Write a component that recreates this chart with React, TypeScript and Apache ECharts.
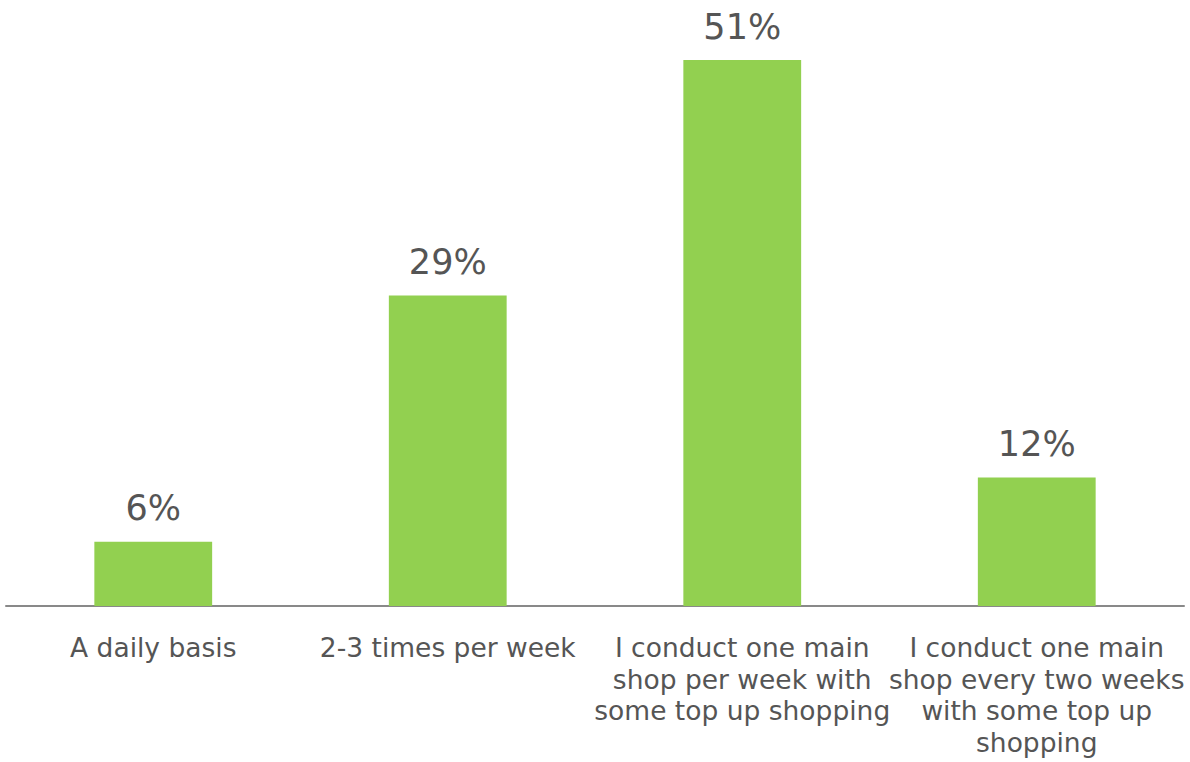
import React, { useEffect, useRef } from "react";
import * as echarts from "echarts";

const categories = [
  "A daily basis",
  "2-3 times per week",
  "I conduct one main shop per week with some top up shopping",
  "I conduct one main shop every two weeks with some top up shopping",
];
const categoryLines = [
  "A daily basis",
  "2-3 times per week",
  "I conduct one main\nshop per week with\nsome top up shopping",
  "I conduct one main\nshop every two weeks\nwith some top up\nshopping",
];
const values = [6, 29, 51, 12];

const FONT = "'DejaVu Sans', Verdana, sans-serif";

export default function App() {
  const ref = useRef<HTMLDivElement>(null);
  useEffect(() => {
    if (!ref.current) return;
    const chart = echarts.init(ref.current, null, { renderer: "svg" });
    chart.setOption({
      animation: false,
      backgroundColor: "#ffffff",
      grid: { left: 6, right: 6, top: 60, bottom: 156, containLabel: false },
      xAxis: {
        type: "category",
        data: categories,
        axisLine: { show: true, lineStyle: { color: "#898989", width: 2 } },
        axisTick: { show: false },
        axisLabel: {
          interval: 0,
          margin: 26,
          color: "#555555",
          fontFamily: FONT,
          fontSize: 26.5,
          lineHeight: 31.5,
          formatter: (v: string) => categoryLines[categories.indexOf(v)] ?? v,
        },
      },
      yAxis: {
        type: "value",
        min: 0,
        max: 51,
        show: false,
        splitLine: { show: false },
      },
      series: [
        {
          type: "bar",
          data: values,
          barWidth: "40%",
          itemStyle: { color: "#92D050" },
          label: {
            show: true,
            position: "top",
            distance: 16,
            color: "#555555",
            fontFamily: FONT,
            fontSize: 35,
            formatter: (p: any) => `${p.value}%`,
          },
        },
      ],
    });
    return () => chart.dispose();
  }, []);
  return (
    <div
      ref={ref}
      style={{ position: "fixed", left: 0, top: 0, width: 1190, height: 762 }}
    />
  );
}
